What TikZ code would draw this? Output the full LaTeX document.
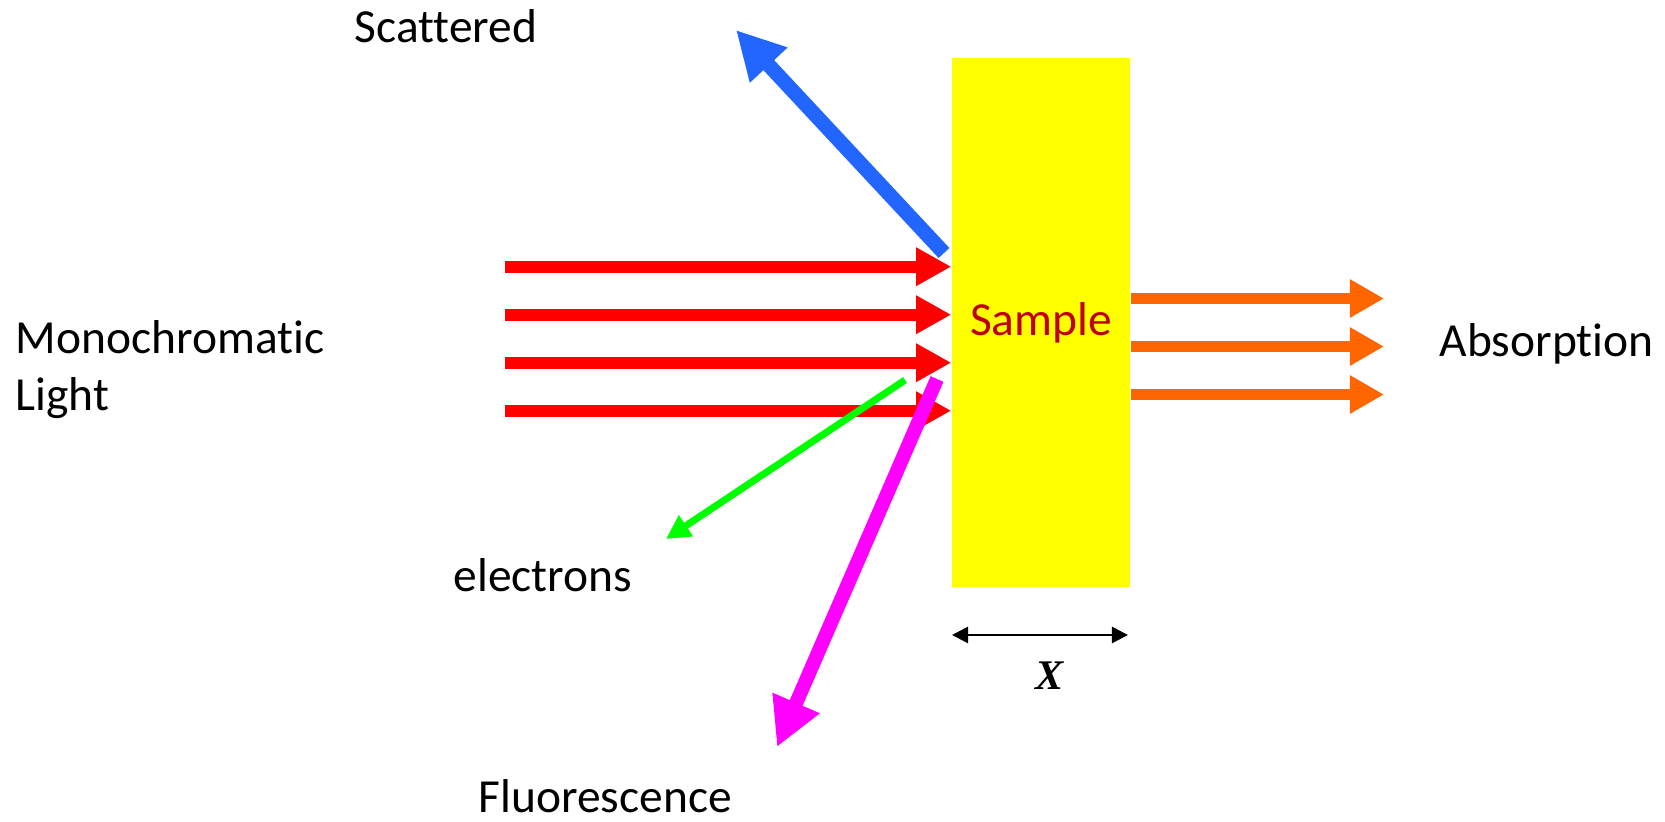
\documentclass[tikz,border=0pt]{standalone}
\usepackage{fontspec}
\setmainfont{Carlito}[Ligatures=NoCommon]
\newfontfamily\xfont{Liberation Serif}
\usetikzlibrary{arrows.meta}
\definecolor{rayred}{HTML}{FF0000}
\definecolor{rayorange}{HTML}{FF6600}
\definecolor{rayblue}{HTML}{2266FF}
\definecolor{raygreen}{HTML}{00FF00}
\definecolor{raymagenta}{HTML}{FF00FF}
\definecolor{samplered}{HTML}{C00000}
\definecolor{sampleyellow}{HTML}{FFFF00}
\begin{document}
\begin{tikzpicture}[x=0.01cm,y=-0.01cm,every node/.style={font=\fontsize{13.5}{16.2}\selectfont,inner sep=0pt},
  inray/.style={draw=rayred,line width=1.17mm,-{Triangle[length=3.5mm,width=3.6mm]}},
  outray/.style={draw=rayorange,line width=1.17mm,-{Triangle[length=3.4mm,width=3.6mm]}},
  bigray/.style={line width=1.47mm,-{Triangle[length=4.8mm,width=4.8mm]}},
  dimline/.style={line width=0.75pt,{Triangle[length=1.6mm,width=1.6mm]}-{Triangle[length=1.6mm,width=1.6mm]}}]
\useasboundingbox (0,0) rectangle (1665,822);
\node[fill=sampleyellow,minimum width=1.78cm,minimum height=5.29cm,text=samplered] (sample) at (1041,322.5) {Sample};
\node[anchor=west,align=left] (mono) at (15,370) {Monochromatic\\Light};
\node[anchor=base west] (scat) at (354,43) {Scattered};
\node[anchor=base west] (elec) at (453,592) {electrons};
\node[anchor=base west] (fluor) at (478,813) {Fluorescence};
\node[anchor=base west] (absorb) at (1439,357) {Absorption};
\node[anchor=base,font=\xfont\bfseries\itshape\fontsize{12}{14}\selectfont] (xlab) at (1050,690) {X};
\coordinate (r1) at (505,266.7);
\coordinate (r2) at (505,314.7);
\coordinate (r3) at (505,362.7);
\coordinate (r4) at (505,410.7);
\coordinate (a1) at (1384,298.5);
\coordinate (a2) at (1384,346.5);
\coordinate (a3) at (1384,394.5);
\coordinate (scatfrom) at (944,253);
\coordinate (scatto) at (736,30);
\coordinate (elecfrom) at (905,380);
\coordinate (electo) at (666,539);
\coordinate (fluorfrom) at (937,379);
\coordinate (fluorto) at (777,747);
\coordinate (dimL) at (952,635);
\coordinate (dimR) at (1128,635);
\draw[inray] (r1) -- (r1 -| sample.west);
\draw[inray] (r2) -- (r2 -| sample.west);
\draw[inray] (r3) -- (r3 -| sample.west);
\draw[inray] (r4) -- (r4 -| sample.west);
\draw[outray] (a1 -| sample.east) -- (a1);
\draw[outray] (a2 -| sample.east) -- (a2);
\draw[outray] (a3 -| sample.east) -- (a3);
\draw[bigray,draw=rayblue] (scatfrom) -- (scatto);
\draw[draw=raygreen,line width=0.7mm,-{Triangle[length=2.4mm,width=2.4mm]}] (elecfrom) -- (electo);
\draw[bigray,draw=raymagenta,line width=1.4mm] (fluorfrom) -- (fluorto);
\draw[dimline] (dimL) -- (dimR);
\end{tikzpicture}
\end{document}
